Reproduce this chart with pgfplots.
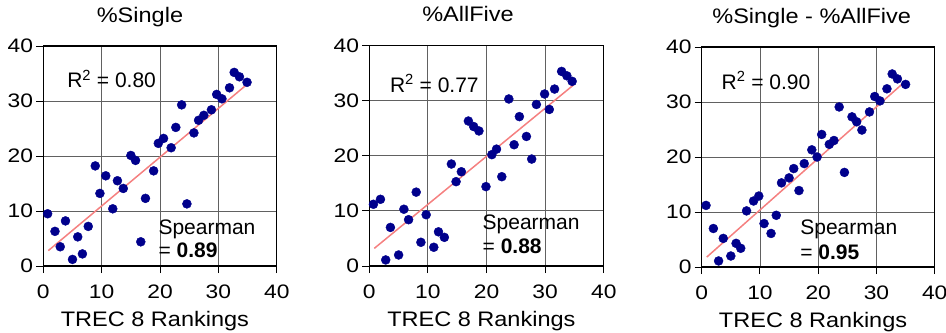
\documentclass[border=0pt]{standalone}
\usepackage{fontspec}
\setmainfont{Liberation Sans}
\newfontfamily\tickfam{Liberation Sans}[FakeStretch=1.17]
\newfontfamily\labfam{Liberation Sans}[FakeStretch=1.12]
\usepackage{pgfplots}
\pgfplotsset{compat=1.18}
\definecolor{dotblue}{RGB}{0,0,140}
\definecolor{fitred}{RGB}{245,128,128}
\newcommand{\tickfont}{\tickfam\fontsize{19.5bp}{22bp}\selectfont}
\newcommand{\labfont}{\labfam\fontsize{21bp}{24bp}\selectfont}
\newcommand{\annfont}{\fontsize{21bp}{24bp}\selectfont}
\pgfplotsset{
  panel/.style={
    scale only axis, width=233.5bp, height=220bp, anchor=south west,
    xmin=0, xmax=40, ymin=0, ymax=40,
    xtick={0,10,20,30,40}, ytick={0,10,20,30,40},
    xtick pos=bottom, ytick pos=left, tick align=outside,
    major tick length=7bp,
    grid=major, grid style={line width=0.9bp, color=black!62},
    axis line style={line width=1.3bp, black},
    tick style={line width=1bp, black},
    /pgf/number format/assume math mode=true,
    tick label style={font=\tickfont, inner sep=3bp},
    xticklabel style={yshift=-9bp},
    xlabel={TREC 8 Rankings},
    xlabel style={font=\labfont, at={(axis description cs:0.478,0)}, anchor=base, yshift=-60bp},
    title style={font=\labfont, anchor=base, yshift=18bp},
  },
  dots/.style={only marks, mark=*, mark size=4.5bp, mark options={fill=dotblue, draw=dotblue}},
  fit/.style={no marks, color=fitred, line width=1.5bp},
}
\begin{document}
\begin{tikzpicture}[x=1bp,y=1bp]
\useasboundingbox (0,0) rectangle (946,332);
% Panel 1
\begin{axis}[panel, at={(43.3bp,66bp)}, title={\%Single},
  title style={at={(axis description cs:0.414,1)}}]
\addplot[dots] coordinates {
(0.74,9.5) (2.0,6.3) (2.9,3.5) (3.8,8.2) (5.0,1.2) (5.9,5.3) (6.7,2.2) (7.7,7.2)
(8.9,18.2) (9.7,13.2) (10.7,16.4) (11.9,10.4) (12.7,15.5) (13.7,14.1) (15.0,20.1)
(15.8,19.2) (16.7,4.4) (17.5,12.3) (18.9,17.3) (19.7,22.3) (20.6,23.2) (21.9,21.5)
(22.7,25.2) (23.7,29.3) (24.6,11.3) (25.8,24.2) (26.6,26.5) (27.5,27.4) (28.8,28.4)
(29.7,31.2) (30.6,30.4) (31.9,32.4) (32.7,35.2) (33.6,34.4) (34.9,33.4)};
\addplot[fit] coordinates {(0.86,2.8) (35.1,33.2)};
\node[anchor=base west, font=\annfont, inner sep=0pt] at (axis cs:4.07,32.4) {R\textsuperscript{2} = 0.80};
\node[anchor=base west, font=\annfont, inner sep=0pt] at (axis cs:19.7,5.76) {Spearman};
\node[anchor=base west, font=\annfont, inner sep=0pt] at (axis cs:19.7,1.5) {= \textbf{0.89}};
\end{axis}
% Panel 2
\begin{axis}[panel, at={(369.3bp,66bp)}, width=234.5bp, height=220.5bp, title={\%AllFive},
  title style={at={(axis description cs:0.421,1)}}]
\addplot[dots] coordinates {
(0.7,11.2) (1.9,12.1) (2.8,1.1) (3.6,7.0) (5.0,2.0) (5.9,10.3) (6.7,8.4) (8.0,13.4)
(8.8,4.3) (9.7,9.3) (11.0,3.4) (11.8,6.2) (12.8,5.2) (14.0,18.5) (14.8,15.3)
(15.7,17.1) (16.9,26.3) (17.8,25.3) (18.7,24.5) (19.9,14.4) (20.9,20.2) (21.7,21.2)
(22.6,16.2) (23.8,30.3) (24.7,22.0) (25.6,27.1) (26.8,23.5) (27.7,19.4) (28.5,29.3)
(29.9,31.2) (30.7,28.4) (31.6,32.1) (32.8,35.3) (33.7,34.5) (34.6,33.5)};
\addplot[fit] coordinates {(0.85,3.2) (34.9,32.9)};
\node[anchor=base west, font=\annfont, inner sep=0pt] at (axis cs:3.5,31.5) {R\textsuperscript{2} = 0.77};
\node[anchor=base west, font=\annfont, inner sep=0pt] at (axis cs:19.3,6.6) {Spearman};
\node[anchor=base west, font=\annfont, inner sep=0pt] at (axis cs:19.3,2.3) {= \textbf{0.88}};
\end{axis}
% Panel 3
\begin{axis}[panel, at={(701.7bp,65bp)}, width=233bp, title={\%Single - \%AllFive},
  title style={at={(axis description cs:0.472,1)}}]
\addplot[dots] coordinates {
(0.74,11.2) (2.0,7.0) (2.9,1.1) (3.7,5.2) (5.0,2.0) (5.9,4.3) (6.7,3.4) (7.7,10.2)
(8.9,12.0) (9.8,12.9) (10.7,7.9) (11.9,6.1) (12.8,9.4) (13.7,15.3) (15.0,16.2)
(15.8,17.9) (16.7,13.9) (17.6,18.8) (18.9,21.3) (19.8,20.0) (20.6,24.1) (21.9,22.3)
(22.7,23.0) (23.6,29.1) (24.5,17.2) (25.8,27.3) (26.6,26.4) (27.5,24.9) (28.8,28.2)
(29.7,31.0) (30.6,30.2) (31.8,32.4) (32.7,35.1) (33.6,34.2) (35.0,33.2)};
\addplot[fit] coordinates {(0.86,1.8) (35.1,33.9)};
\node[anchor=base west, font=\annfont, inner sep=0pt] at (axis cs:3.4,32.3) {R\textsuperscript{2} = 0.90};
\node[anchor=base west, font=\annfont, inner sep=0pt] at (axis cs:16.9,6.0) {Spearman};
\node[anchor=base west, font=\annfont, inner sep=0pt] at (axis cs:16.9,1.4) {= \textbf{0.95}};
\end{axis}
\end{tikzpicture}
\end{document}
